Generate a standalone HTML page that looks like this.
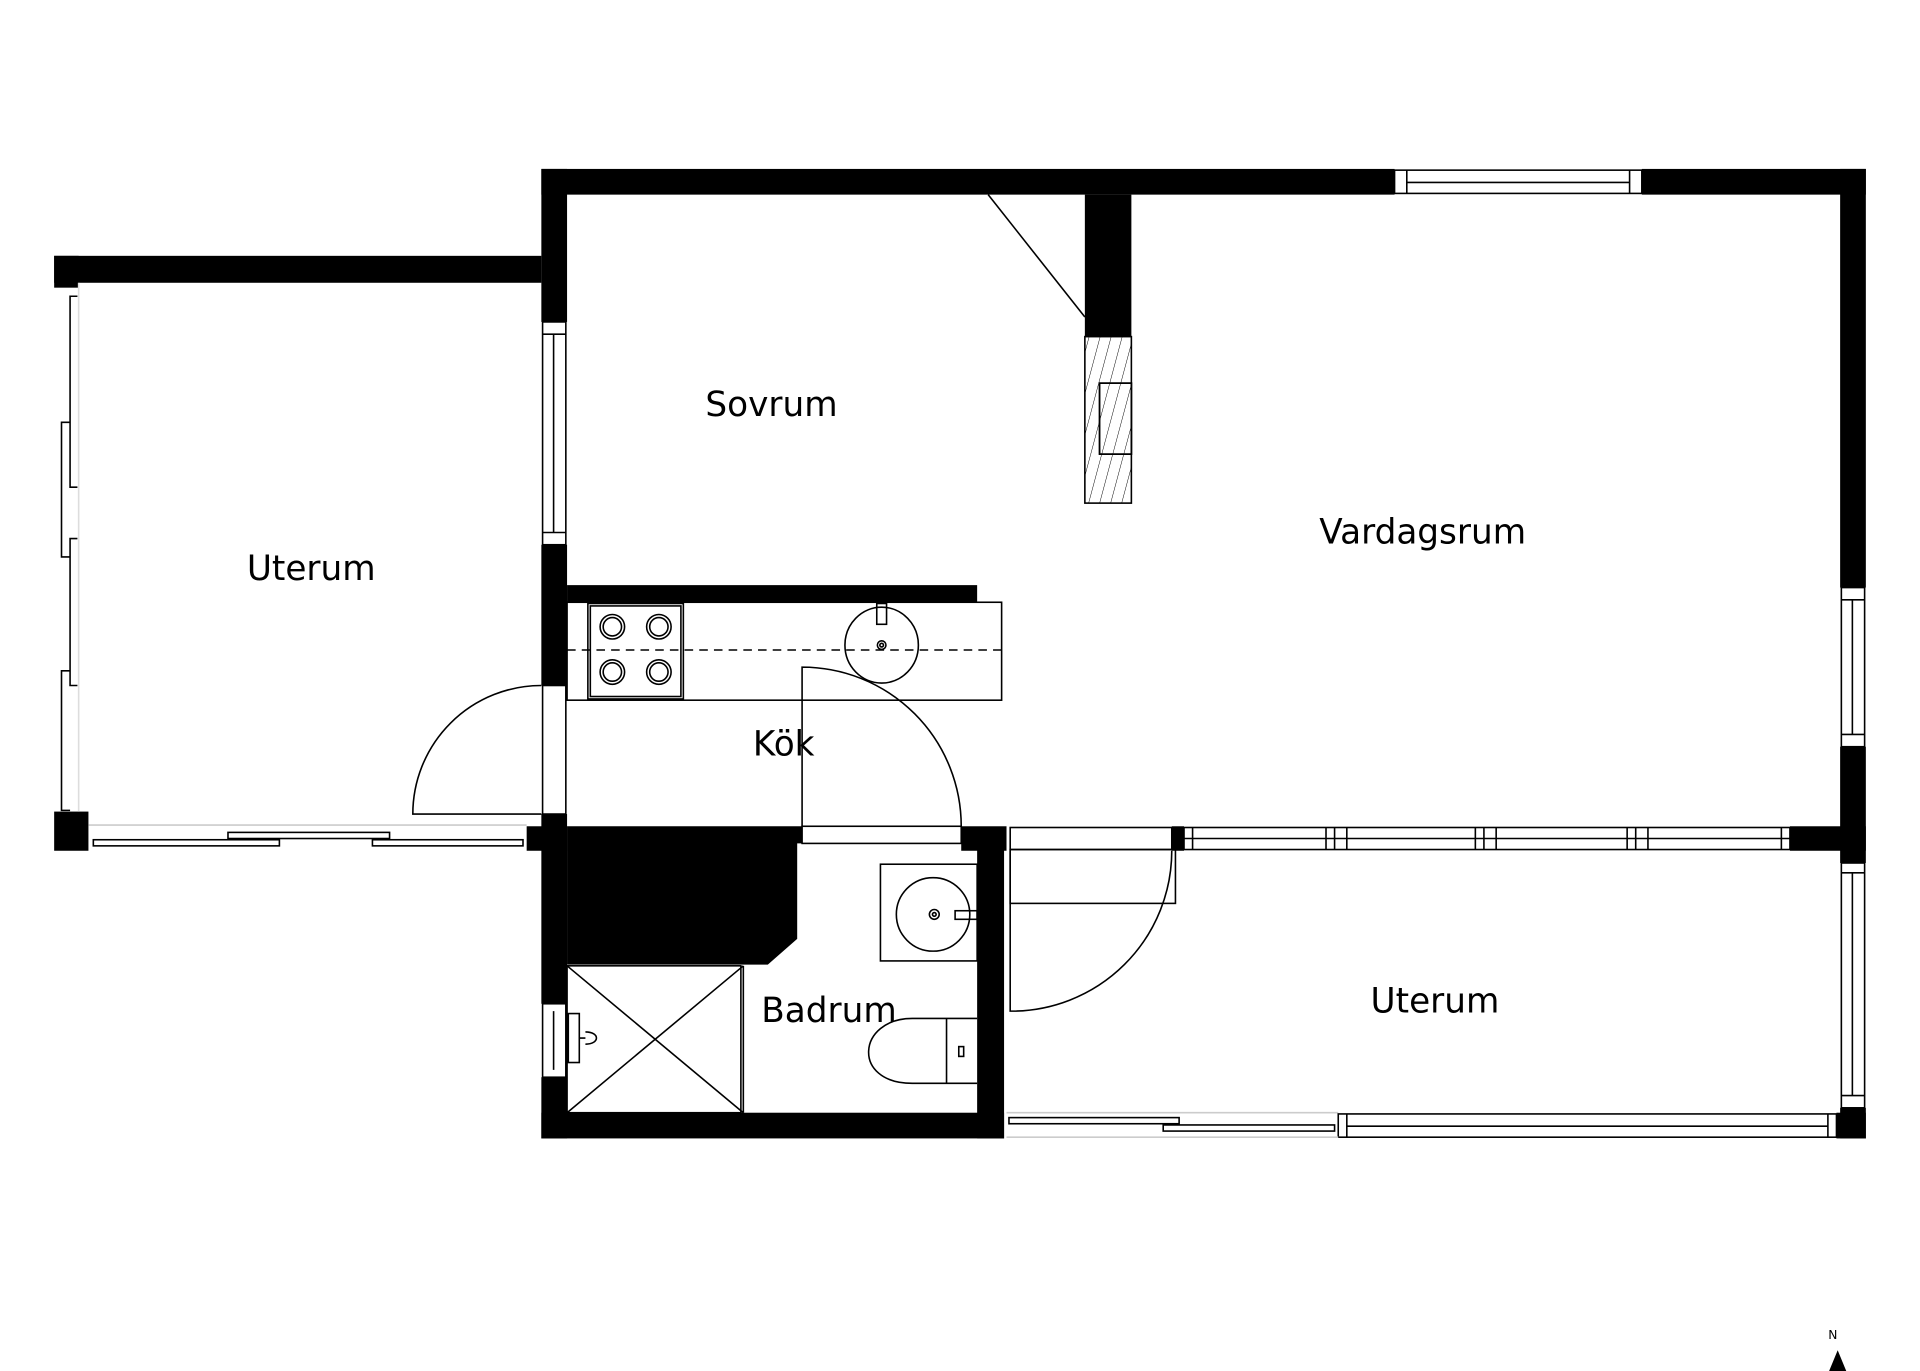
<!DOCTYPE html>
<html><head><meta charset="utf-8"><style>
html,body{margin:0;padding:0;background:#fff;}
svg{display:block;}
text{font-family:"DejaVu Sans","Liberation Sans",sans-serif;fill:#000;}
</style></head><body>
<svg width="1920" height="1371" viewBox="0 0 1568 1120" xmlns="http://www.w3.org/2000/svg">
<defs>
<pattern id="h" width="9" height="20" patternUnits="userSpaceOnUse" patternTransform="skewX(-15)">
<line x1="0" y1="0" x2="0" y2="20" stroke="#000" stroke-width="0.8"/>
</pattern>
</defs>
<g fill="#000">
<rect x="442" y="138" width="697" height="21"/>
<rect x="1341" y="138" width="183" height="21"/>
<rect x="1503" y="138" width="21" height="342"/>
<rect x="1503" y="610" width="21" height="95"/>
<rect x="1503" y="905" width="21" height="25"/>
<rect x="442" y="138" width="21" height="125"/>
<rect x="442" y="445" width="21" height="115"/>
<rect x="442" y="665" width="21" height="155"/>
<rect x="442" y="880" width="21" height="50"/>
<rect x="442" y="909" width="378" height="21"/>
<rect x="1500" y="909" width="24" height="21"/>
<rect x="44" y="209" width="398" height="22"/>
<rect x="44" y="209" width="20" height="26"/>
<rect x="44" y="663" width="28" height="32"/>
<rect x="430" y="675" width="33" height="20"/>
<rect x="463" y="478" width="335" height="14"/>
<rect x="886" y="159" width="38" height="116"/>
<path d="M442 675 H655 V689 H651 V767 L627 788 H463 V675 Z"/>
<rect x="785" y="675" width="37" height="20"/>
<rect x="957" y="675" width="10" height="20"/>
<rect x="1462" y="675" width="62" height="20"/>
<rect x="798" y="689" width="22" height="241"/>
</g>
<g fill="none" stroke="#000" stroke-width="1.3">
<rect x="1139" y="139" width="202" height="19"/>
<line x1="1149" y1="139" x2="1149" y2="158"/><line x1="1331" y1="139" x2="1331" y2="158"/>
<line x1="1149" y1="149" x2="1331" y2="149"/>
<rect x="1504" y="480" width="19" height="130"/>
<line x1="1504" y1="490" x2="1523" y2="490"/><line x1="1504" y1="600" x2="1523" y2="600"/>
<line x1="1513" y1="490" x2="1513" y2="600"/>
<rect x="1504" y="705" width="19" height="200"/>
<line x1="1504" y1="713" x2="1523" y2="713"/><line x1="1504" y1="895" x2="1523" y2="895"/>
<line x1="1513" y1="713" x2="1513" y2="895"/>
<rect x="443" y="263" width="19" height="182"/>
<line x1="443" y1="273" x2="462" y2="273"/><line x1="443" y1="435" x2="462" y2="435"/>
<line x1="452" y1="273" x2="452" y2="435"/>
<rect x="443" y="560" width="19" height="105"/>
<rect x="443" y="820" width="19" height="60"/>
<line x1="452" y1="826" x2="452" y2="874"/>
<polyline points="63,242 57,242 57,398 63,398"/>
<polyline points="57,345 50,345 50,455 57,455"/>
<polyline points="63,440 57,440 57,560 63,560"/>
<polyline points="57,548 50,548 50,662 57,662"/>
<line x1="64" y1="231" x2="64" y2="663" stroke="#ddd"/>
<line x1="72" y1="674" x2="430" y2="674" stroke="#ccc"/>
<rect x="76" y="686" width="152" height="5"/>
<rect x="186" y="680" width="132" height="5"/>
<rect x="304" y="686" width="123" height="5"/>
<rect x="967" y="676" width="495" height="18"/>
<line x1="967" y1="685" x2="1462" y2="685"/>
<line x1="974" y1="676" x2="974" y2="694"/>
<line x1="1083" y1="676" x2="1083" y2="694"/><line x1="1090" y1="676" x2="1090" y2="694"/>
<line x1="1100" y1="676" x2="1100" y2="694"/>
<line x1="1205" y1="676" x2="1205" y2="694"/><line x1="1212" y1="676" x2="1212" y2="694"/>
<line x1="1222" y1="676" x2="1222" y2="694"/>
<line x1="1329" y1="676" x2="1329" y2="694"/><line x1="1336" y1="676" x2="1336" y2="694"/>
<line x1="1346" y1="676" x2="1346" y2="694"/>
<line x1="1455" y1="676" x2="1455" y2="694"/>
<rect x="825" y="676" width="132" height="18"/>
<rect x="825" y="694" width="135" height="44"/>
<path d="M825 695 V826 A131 131 0 0 0 957 695"/>
<line x1="822" y1="909" x2="1093" y2="909" stroke="#ccc"/>
<rect x="824" y="913" width="139" height="5"/>
<rect x="950" y="919" width="140" height="5"/>
<rect x="1093" y="910" width="407" height="19"/>
<line x1="1100" y1="910" x2="1100" y2="929"/><line x1="1493" y1="910" x2="1493" y2="929"/>
<line x1="1100" y1="920" x2="1493" y2="920"/>
<line x1="822" y1="929" x2="1093" y2="929" stroke="#ccc"/>
<path d="M442 665 H337 A105 105 0 0 1 442 560"/>
<rect x="655" y="675" width="130" height="14"/>
<path d="M655 675 V545 A130 130 0 0 1 785 675"/>
<line x1="807" y1="159" x2="886" y2="259"/>
<rect x="886" y="275" width="38" height="136" fill="url(#h)"/>
<rect x="898" y="313" width="26" height="58" fill="#fff"/>
<rect x="898" y="313" width="26" height="58" fill="url(#h)"/>
<rect x="463" y="492" width="355" height="80"/>
<line x1="463" y1="531" x2="818" y2="531" stroke-dasharray="7,5"/>
<rect x="480" y="493" width="78" height="78"/>
<rect x="482" y="495" width="74" height="74"/>
<circle cx="500" cy="512" r="10"/><circle cx="500" cy="512" r="7.5"/>
<circle cx="538" cy="512" r="10"/><circle cx="538" cy="512" r="7.5"/>
<circle cx="500" cy="549" r="10"/><circle cx="500" cy="549" r="7.5"/>
<circle cx="538" cy="549" r="10"/><circle cx="538" cy="549" r="7.5"/>
<ellipse cx="720" cy="527" rx="30" ry="31"/>
<rect x="716" y="493" width="8" height="17"/>
<circle cx="720" cy="527" r="3.5"/><circle cx="720" cy="527" r="1.5"/>
<rect x="719" y="706" width="79" height="79"/>
<ellipse cx="762" cy="747" rx="30" ry="30"/>
<circle cx="763" cy="747" r="4"/><circle cx="763" cy="747" r="1.5"/>
<rect x="780" y="744" width="18" height="7"/>
<rect x="463" y="789" width="142" height="120"/>
<line x1="607" y1="789" x2="607" y2="909"/>
<line x1="463" y1="789" x2="607" y2="909"/>
<line x1="607" y1="789" x2="463" y2="909"/>
<path d="M798 832 H745 C700 832 695 885 745 885 H798"/>
<line x1="773" y1="832" x2="773" y2="885"/>
<rect x="783" y="855" width="4" height="8"/>
<rect x="464" y="828" width="9" height="40"/>
<path d="M473 848 H478 M478 843 C490 843 490 853 478 853"/>
</g>
<g font-size="28" text-anchor="middle">
<text x="630" y="340">Sovrum</text>
<text x="1162" y="444">Vardagsrum</text>
<text x="254" y="474">Uterum</text>
<text x="640" y="617">Kök</text>
<text x="677" y="835">Badrum</text>
<text x="1172" y="827">Uterum</text>
</g>
<text x="1497" y="1094" font-size="10" text-anchor="middle">N</text>
<path d="M1501 1103 L1494 1120 H1508 Z" fill="#000"/>
</svg>
</body></html>
